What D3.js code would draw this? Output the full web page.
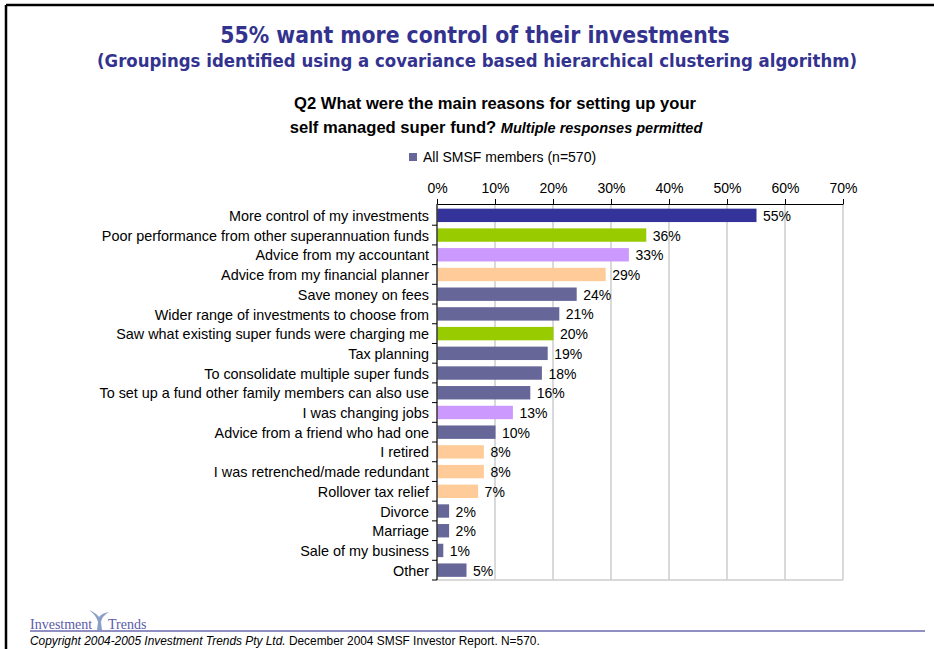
<!DOCTYPE html>
<html>
<head>
<meta charset="utf-8">
<title>SMSF reasons</title>
<script src="https://d3js.org/d3.v7.min.js"></script>
<style>
body { margin:0; background:#fff; }
svg text { font-family: "Liberation Sans", Arial, sans-serif; }
.title { font-family: "DejaVu Sans Condensed", "DejaVu Sans", sans-serif !important; font-weight:bold; fill:#33338f; }
.grid line { stroke:#cccccc; }
.lab { font-size:14px; fill:#000; }
</style>
</head>
<body>
<script>
// chart data
var categories = [
  "More control of my investments",
  "Poor performance from other superannuation funds",
  "Advice from my accountant",
  "Advice from my financial planner",
  "Save money on fees",
  "Wider range of investments to choose from",
  "Saw what existing super funds were charging me",
  "Tax planning",
  "To consolidate multiple super funds",
  "To set up a fund other family members can also use",
  "I was changing jobs",
  "Advice from a friend who had one",
  "I retired",
  "I was retrenched/made redundant",
  "Rollover tax relief",
  "Divorce",
  "Marriage",
  "Sale of my business",
  "Other"
];
var values = [55, 36, 33, 29, 24, 21, 20, 19, 18, 16, 13, 10, 8, 8, 7, 2, 2, 1, 5];
// cluster grouping of each reason
var groups = ["top", "perf", "adv", "plan", "base", "base", "perf", "base", "base", "base",
              "adv", "base", "plan", "plan", "plan", "base", "base", "base", "base"];
var ticks = [0, 10, 20, 30, 40, 50, 60, 70];
var seriesName = "All SMSF members (n=570)";

var colour = d3.scaleOrdinal()
  .domain(["top", "perf", "adv", "plan", "base"])
  .range(["#333399", "#99cc00", "#cc99ff", "#ffcc99", "#666699"]);

var W = 934, H = 649;
var svg = d3.select("body").append("svg").attr("width", W).attr("height", H);

// page frame
svg.append("line").attr("x1", 6).attr("x2", W).attr("y1", 5).attr("y2", 5)
  .attr("stroke", "#000").attr("stroke-width", 2.5);
svg.append("line").attr("x1", 6).attr("x2", 6).attr("y1", 5).attr("y2", H)
  .attr("stroke", "#000").attr("stroke-width", 2.5);

svg.append("text").attr("class", "title").attr("x", 475).attr("y", 43)
  .attr("text-anchor", "middle").style("font-size", "22.7px")
  .text("55% want more control of their investments");
svg.append("text").attr("class", "title").attr("x", 477).attr("y", 67)
  .attr("text-anchor", "middle").style("font-size", "18.4px")
  .text("(Groupings identified using a covariance based hierarchical clustering algorithm)");

var q = svg.append("g").style("font-weight", "bold");
q.append("text").attr("x", 495).attr("y", 109).attr("text-anchor", "middle")
  .style("font-size", "16.6px").text("Q2 What were the main reasons for setting up your");
var q2 = q.append("text").attr("x", 496).attr("y", 133).attr("text-anchor", "middle")
  .style("font-size", "16.6px");
q2.append("tspan").text("self managed super fund? ");
q2.append("tspan").style("font-style", "italic").style("font-size", "14.5px").text("Multiple responses permitted");

// legend
svg.append("rect").attr("x", 409).attr("y", 153).attr("width", 8).attr("height", 8)
  .attr("fill", colour("base"));
svg.append("text").attr("class", "lab").attr("x", 423).attr("y", 162).text(seriesName);

var pLeft = 437, pRight = 843, pTop = 204, pBottom = 580;
var x = d3.scaleLinear().domain([0, 70]).range([pLeft, pRight]);
var y = d3.scaleBand().domain(categories).range([pTop + 1.5, pBottom]).paddingInner(0.32).paddingOuter(0.16);

// gridlines
svg.append("g").attr("class", "grid").selectAll("line").data(ticks.slice(1)).enter()
  .append("line").attr("x1", d => x(d)).attr("x2", d => x(d))
  .attr("y1", pTop).attr("y2", pBottom).attr("stroke-width", 1.5);
svg.append("line").attr("x1", pLeft).attr("x2", pRight).attr("y1", pBottom).attr("y2", pBottom)
  .attr("stroke", "#cccccc").attr("stroke-width", 1.5);

// bars
svg.append("g").selectAll("rect").data(values).enter().append("rect")
  .attr("x", pLeft + 0.5)
  .attr("y", (d, i) => y(categories[i]))
  .attr("width", d => x(d) - pLeft)
  .attr("height", y.bandwidth())
  .attr("fill", (d, i) => colour(groups[i]));

svg.append("g").selectAll("text").data(values).enter().append("text")
  .attr("class", "lab")
  .attr("x", d => x(d) + 7)
  .attr("y", (d, i) => y(categories[i]) + y.bandwidth() / 2 + 5.5)
  .text(d => d + "%");

// top axis
var xAxis = d3.axisTop(x).tickValues(ticks).tickFormat(d => d + "%").tickSize(5).tickSizeOuter(0);
var gx = svg.append("g").attr("transform", "translate(0," + pTop + ")").call(xAxis);
gx.select(".domain").attr("stroke", "#000");
gx.selectAll("text").attr("font-size", "14px").attr("font-family", "Liberation Sans, Arial, sans-serif")
  .attr("fill", "#000").attr("y", -11);

// left axis: ticks at band boundaries
var yAxis = d3.axisLeft(y).tickSize(0).tickPadding(8);
var gy = svg.append("g").attr("transform", "translate(" + pLeft + ",1)").call(yAxis);
gy.select(".domain").remove();
gy.selectAll("text").attr("font-size", "14.4px").attr("font-family", "Liberation Sans, Arial, sans-serif")
  .attr("fill", "#000");
var step = y.step();
var bounds = d3.range(categories.length + 1).map(i => y(categories[0]) - step * y.paddingInner() / 2 + i * step);
svg.append("line").attr("x1", pLeft).attr("x2", pLeft).attr("y1", pTop).attr("y2", pBottom)
  .attr("stroke", "#000").attr("stroke-width", 1.2);
svg.append("g").selectAll("line").data(bounds.slice(1)).enter().append("line")
  .attr("x1", pLeft - 5).attr("x2", pLeft).attr("y1", d => d).attr("y2", d => d)
  .attr("stroke", "#000");

// footer
var logo = svg.append("g");
logo.append("text").attr("x", 30).attr("y", 629)
  .style("font-family", "Liberation Serif, Times New Roman, serif").style("font-size", "14px")
  .style("fill", "#5b5ba8").text("Investment");
logo.append("text").attr("x", 108).attr("y", 629)
  .style("font-family", "Liberation Serif, Times New Roman, serif").style("font-size", "14px")
  .style("fill", "#5b5ba8").text("Trends");
logo.append("path").attr("d", "M89,610 Q96,613 99,617 Q102,613 109,612 Q102,616 101,622 L102,630 L97,630 L98,622 Q96,615 89,610 Z")
  .attr("fill", "#8aa0c8");
svg.append("line").attr("x1", 30).attr("x2", 925).attr("y1", 631).attr("y2", 631)
  .attr("stroke", "#6a6ab0").attr("stroke-width", 1.5);
var foot = svg.append("text").attr("x", 30).attr("y", 645).style("font-size", "11.9px");
foot.append("tspan").style("font-style", "italic").text("Copyright 2004-2005 Investment Trends Pty Ltd.");
foot.append("tspan").text(" December 2004 SMSF Investor Report. N=570.");
</script>
</body>
</html>
